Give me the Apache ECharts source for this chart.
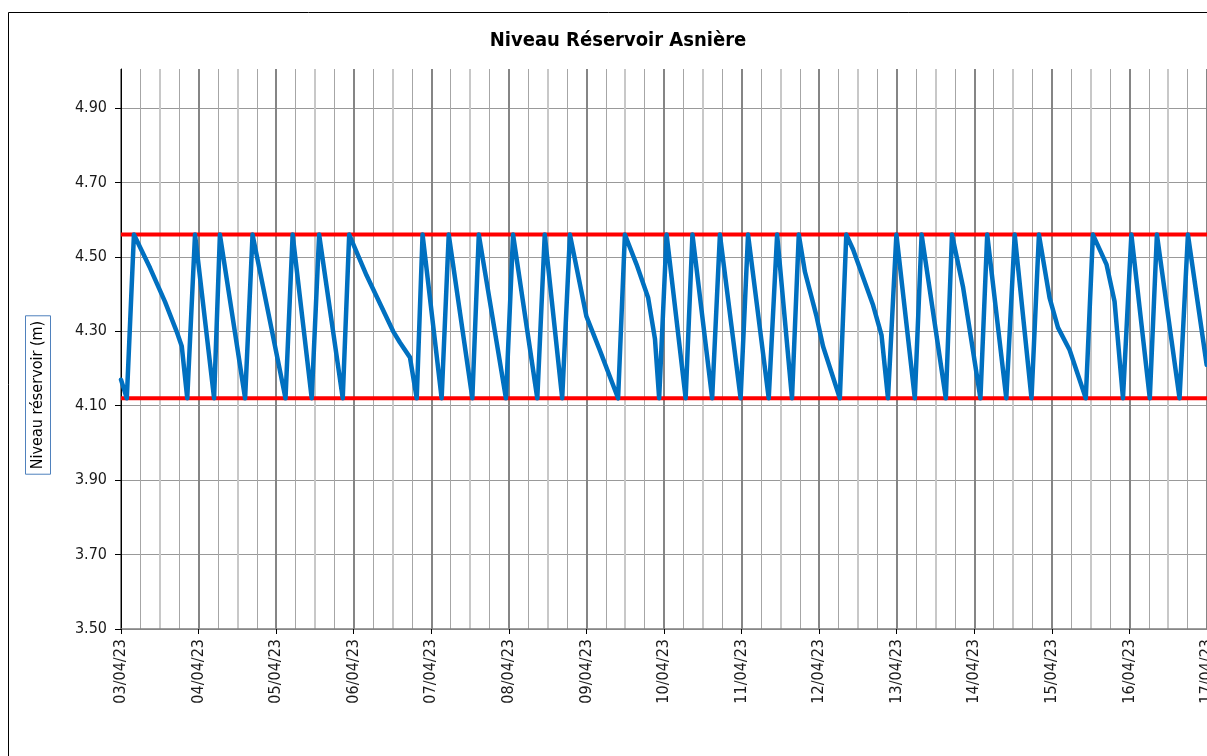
<!DOCTYPE html>
<html>
<head>
<meta charset="utf-8">
<script src="https://cdn.jsdelivr.net/npm/echarts@6/dist/echarts.min.js"></script>
<style>
  html, body { margin: 0; padding: 0; background: #fff; }
  #chart { width: 1207px; height: 756px; }
</style>
</head>
<body>
<div id="chart"></div>
<script>
// heures depuis le 03/04/23 00:00
const heures = [0, 1.8, 4.0, 9.0, 13.6, 17.2, 18.8, 20.5, 22.9, 28.8, 30.6, 38.4, 40.7, 50.9, 53.1, 59.0, 61.3,
  68.6, 70.6, 76.0, 84.2, 86.3, 89.4, 91.5, 93.3, 99.2, 101.4, 108.7, 110.7, 119.1, 121.3, 128.8, 131.1,
  136.5, 138.9, 144.0, 148.1, 153.8, 155.9, 159.5, 163.1, 165.2, 166.5, 168.8, 174.7, 176.8, 182.9, 185.3,
  191.7, 194.0, 200.4, 203.0, 207.6, 209.7, 211.6, 215.2, 217.2, 222.4, 224.4, 226.5, 232.7, 235.3, 237.3,
  239.9, 245.6, 247.7, 255.2, 257.1, 260.5, 265.9, 268.0, 273.9, 276.5, 281.7, 284.0, 287.3, 289.9, 293.5,
  298.5, 300.7, 304.9, 307.4, 310.0, 312.6, 318.3, 320.5, 327.5, 330.1, 335.9];
// niveau réservoir (m)
const niveaux = [4.17, 4.12, 4.56, 4.47, 4.38, 4.30, 4.26, 4.12, 4.56, 4.12, 4.56, 4.12, 4.56, 4.12, 4.56, 4.12, 4.56,
  4.12, 4.56, 4.45, 4.30, 4.27, 4.23, 4.12, 4.56, 4.12, 4.56, 4.12, 4.56, 4.12, 4.56, 4.12, 4.56,
  4.12, 4.56, 4.34, 4.25, 4.12, 4.56, 4.48, 4.39, 4.28, 4.12, 4.56, 4.12, 4.56, 4.12, 4.56,
  4.12, 4.56, 4.12, 4.56, 4.12, 4.56, 4.46, 4.34, 4.26, 4.12, 4.56, 4.52, 4.37, 4.29, 4.12,
  4.56, 4.12, 4.56, 4.12, 4.56, 4.42, 4.12, 4.56, 4.12, 4.56, 4.12, 4.56, 4.39, 4.31, 4.25,
  4.12, 4.56, 4.48, 4.38, 4.12, 4.56, 4.12, 4.56, 4.12, 4.56, 4.21];
const seuilHaut = 4.56;
const seuilBas = 4.12;
const jours = ['03/04/23', '04/04/23', '05/04/23', '06/04/23', '07/04/23', '08/04/23', '09/04/23', '10/04/23',
  '11/04/23', '12/04/23', '13/04/23', '14/04/23', '15/04/23', '16/04/23', '17/04/23'];

const police = "'DejaVu Sans Condensed', 'Noto Sans', sans-serif";
const finH = (jours.length - 1) * 24;

const chart = echarts.init(document.getElementById('chart'));
chart.setOption({
  animation: false,
  backgroundColor: '#fff',
  title: {
    text: 'Niveau Réservoir Asnière',
    left: 613,
    top: 26,
    textAlign: 'center',
    textStyle: { fontFamily: police, fontSize: 20, fontWeight: 'bold', color: '#000' }
  },
  graphic: [
    {
      type: 'rect',
      z: -1,
      shape: { x: 8.5, y: 12.5, width: 1400, height: 900 },
      style: { fill: 'none', stroke: '#000', lineWidth: 1 }
    },
    {
      type: 'text',
      x: 38,
      y: 395,
      rotation: Math.PI / 2,
      style: {
        text: 'Niveau réservoir (m)',
        fontFamily: police,
        fontSize: 16,
        fill: '#000',
        align: 'center',
        verticalAlign: 'middle',
        borderColor: '#4f81bd',
        borderWidth: 1,
        padding: [5, 5, 4, 5]
      }
    }
  ],
  grid: { left: 121, right: 0, top: 69, bottom: 127, containLabel: false, outerBoundsMode: 'none' },
  xAxis: [
    {
      type: 'value',
      min: 0,
      max: finH,
      interval: 24,
      axisLine: { show: true, lineStyle: { color: '#808080', width: 1.5 } },
      axisTick: { show: true, length: 5, lineStyle: { color: '#000' } },
      axisLabel: {
        rotate: 90,
        margin: 10,
        fontFamily: police,
        fontSize: 16,
        color: '#1a1a1a',
        showMinLabel: true,
        showMaxLabel: true,
        formatter: v => jours[Math.round(v / 24)] || ''
      },
      splitLine: { show: true, lineStyle: { color: '#858585', width: 2 } },
      minorTick: { show: false, splitNumber: 4 },
      minorSplitLine: { show: true, lineStyle: { color: '#a6a6a6', width: 1 } }
    },
    {
      // lignes de 12 h, plus claires
      type: 'value',
      position: 'bottom',
      min: 0,
      max: finH,
      interval: 24,
      axisLine: { show: false },
      axisTick: { show: false },
      axisLabel: { show: false },
      splitLine: { show: false },
      minorTick: { show: false, splitNumber: 2 },
      minorSplitLine: { show: true, lineStyle: { color: '#c8c8c8', width: 2 } }
    }
  ],
  yAxis: {
    type: 'value',
    min: 3.5,
    max: 5.005,
    interval: 0.2,
    axisLine: { show: true, onZero: false, lineStyle: { color: '#000', width: 1 } },
    axisTick: { show: true, length: 6, lineStyle: { color: '#000' } },
    axisLabel: {
      fontFamily: police,
      fontSize: 16,
      color: '#1a1a1a',
      margin: 14,
      showMaxLabel: false,
      formatter: v => v.toFixed(2)
    },
    splitLine: { show: true, showMaxLine: false, lineStyle: { color: '#999', width: 1 } }
  },
  series: [
    {
      name: 'Seuil haut',
      type: 'line',
      symbol: 'none',
      data: [[0, seuilHaut], [finH, seuilHaut]],
      lineStyle: { color: '#ff0000', width: 4 },
      z: 2
    },
    {
      name: 'Seuil bas',
      type: 'line',
      symbol: 'none',
      data: [[0, seuilBas], [finH, seuilBas]],
      lineStyle: { color: '#ff0000', width: 4 },
      z: 2
    },
    {
      name: 'Niveau',
      type: 'line',
      symbol: 'none',
      data: heures.map((h, i) => [h, niveaux[i]]),
      lineStyle: { color: '#0070c0', width: 4.5, join: 'round', cap: 'round' },
      z: 3
    }
  ]
});
</script>
</body>
</html>
